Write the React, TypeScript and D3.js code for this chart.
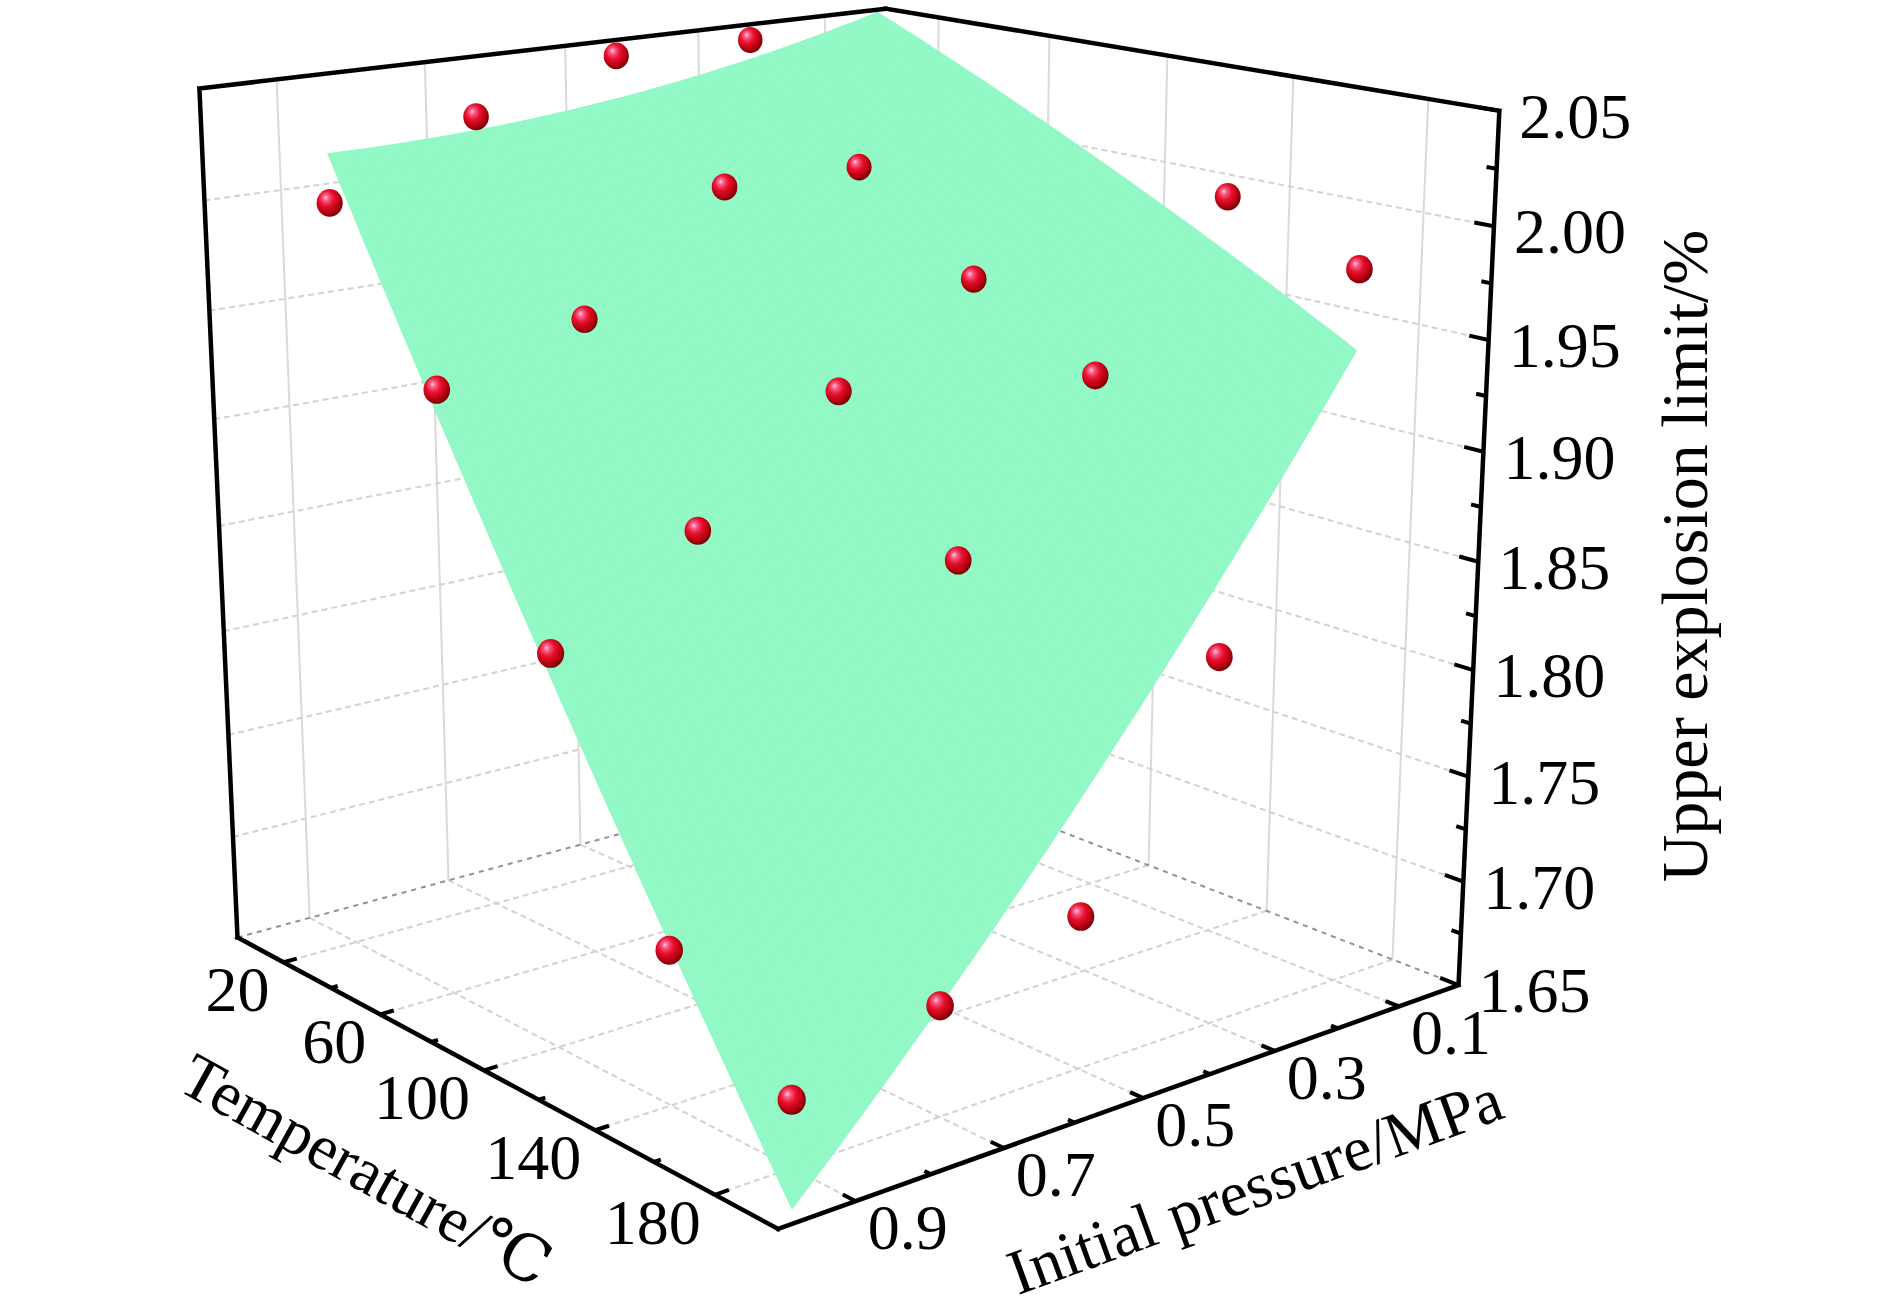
import React from 'react';
import * as d3 from 'd3';

// ---------------- data ----------------
const temperatures = [20, 60, 100, 140, 180];
const pressures = [0.1, 0.3, 0.5, 0.7, 0.9];
// measured upper explosion limit (%) at each temperature, for the pressures above
const uelAt20 = [2.04, 2.05, 2.05, 2.03, 2.0];
const uelAt60 = [2.02, 2.0, 2.0, 1.95, 1.93];
const uelAt100 = [1.99, 1.96, 1.92, 1.87, 1.83];
const uelAt140 = [2.0, 1.93, 1.86, 1.76, 1.72];
const uelAt180 = [1.98, 1.82, 1.72, 1.7, 1.68];
const measured = [uelAt20, uelAt60, uelAt100, uelAt140, uelAt180];

// fitted surface (read at the nodes below)
const fitTemperatures = [20, 100, 180];
const fitPressures = [0.1, 0.5, 0.9];
const fitAt20 = [2.056, 2.03, 2.022];
const fitAt100 = [2.004, 1.895, 1.819];
const fitAt180 = [1.944, 1.775, 1.632];
const fitTable = [fitAt20, fitAt100, fitAt180];

// axes
const T_DOMAIN = [0, 200];
const P_DOMAIN = [0, 1];
const Z_DOMAIN = [1.65, 2.05];
const tempTicks = [20, 60, 100, 140, 180];
const tempMinor = [40, 80, 120, 160];
const pressTicks = [0.1, 0.3, 0.5, 0.7, 0.9];
const pressMinor = [0.2, 0.4, 0.6, 0.8];
const zTicks = [1.65, 1.7, 1.75, 1.8, 1.85, 1.9, 1.95, 2.0, 2.05];
const zMinor = [1.675, 1.725, 1.775, 1.825, 1.875, 1.925, 1.975, 2.025];

// ---------------- projection (calibrated on the frame corners) ----------------
const frameAnchors = [
  { b: [0, 1, 0], s: [237, 937] },
  { b: [1, 1, 0], s: [777, 1230] },
  { b: [1, 0, 0], s: [1458, 983] },
  { b: [0, 0, 0], s: [885, 764] },
  { b: [0, 1, 1], s: [201, 88] },
  { b: [0, 0, 1], s: [883, 8] },
  { b: [1, 0, 1], s: [1501, 112] },
];

function solveDLT(anchors: any[]) {
  const rows: number[][] = [];
  const rhs: number[] = [];
  for (const a of anchors) {
    const [X, Y, Z] = a.b;
    const [u, v] = a.s;
    rows.push([X, Y, Z, 1, 0, 0, 0, 0, -u * X, -u * Y, -u * Z]);
    rhs.push(u);
    rows.push([0, 0, 0, 0, X, Y, Z, 1, -v * X, -v * Y, -v * Z]);
    rhs.push(v);
  }
  const n = 11;
  const A = Array.from({ length: n }, () => Array(n).fill(0));
  const B = Array(n).fill(0);
  rows.forEach((r, k) => {
    for (let i = 0; i < n; i++) {
      for (let j = 0; j < n; j++) A[i][j] += r[i] * r[j];
      B[i] += r[i] * rhs[k];
    }
  });
  for (let c = 0; c < n; c++) {
    let p = c;
    for (let r = c + 1; r < n; r++) if (Math.abs(A[r][c]) > Math.abs(A[p][c])) p = r;
    [A[c], A[p]] = [A[p], A[c]];
    [B[c], B[p]] = [B[p], B[c]];
    for (let r = 0; r < n; r++) {
      if (r === c) continue;
      const f = A[r][c] / A[c][c];
      for (let j = c; j < n; j++) A[r][j] -= f * A[c][j];
      B[r] -= f * B[c];
    }
  }
  return B.map((b, i) => b / A[i][i]);
}

const M = solveDLT(frameAnchors);
const tx = d3.scaleLinear().domain(T_DOMAIN).range([0, 1]);
const py = d3.scaleLinear().domain(P_DOMAIN).range([0, 1]);
const zz = d3.scaleLinear().domain(Z_DOMAIN).range([0, 1]);

function proj(T: number, P: number, Z: number): [number, number, number] {
  const X = tx(T), Y = py(P), W = zz(Z);
  const w = M[8] * X + M[9] * Y + M[10] * W + 1;
  return [(M[0] * X + M[1] * Y + M[2] * W + M[3]) / w, (M[4] * X + M[5] * Y + M[6] * W + M[7]) / w, w];
}

function lagrange(xs: number[], ys: number[], x: number) {
  let s = 0;
  for (let i = 0; i < xs.length; i++) {
    let L = 1;
    for (let j = 0; j < xs.length; j++) if (j !== i) L *= (x - xs[j]) / (xs[i] - xs[j]);
    s += L * ys[i];
  }
  return s;
}
function fitSurface(T: number, P: number) {
  const col = fitTable.map(r => lagrange(fitPressures, r, P));
  return lagrange(fitTemperatures, col, T);
}

const pt = (q: number[]) => `${q[0].toFixed(2)},${q[1].toFixed(2)}`;
const seg = (a: number[], b: number[]) => `M${pt(a)}L${pt(b)}`;

const SERIF = "'Liberation Serif', 'Times New Roman', 'DejaVu Serif', serif";
const FS = 64;
const SURF = '#92F8C5';

export default function App() {
  const [T0, T1] = T_DOMAIN;
  const [P0, P1] = P_DOMAIN;
  const [Z0, Z1] = Z_DOMAIN;

  // grid lines
  const wallV: string[] = [];
  const dashed: string[] = [];
  pressTicks.forEach(p => wallV.push(seg(proj(T0, p, Z0), proj(T0, p, Z1))));
  tempTicks.forEach(t => wallV.push(seg(proj(t, P0, Z0), proj(t, P0, Z1))));
  zTicks.slice(1, -1).forEach(z => {
    dashed.push(seg(proj(T0, P1, z), proj(T0, P0, z)));
    dashed.push(seg(proj(T0, P0, z), proj(T1, P0, z)));
  });
  tempTicks.forEach(t => dashed.push(seg(proj(t, P0, Z0), proj(t, P1, Z0))));
  pressTicks.forEach(p => dashed.push(seg(proj(T0, p, Z0), proj(T1, p, Z0))));
  const junction = [seg(proj(T0, P1, Z0), proj(T0, P0, Z0)), seg(proj(T0, P0, Z0), proj(T1, P0, Z0))];

  // surface mesh
  const N = 48;
  const [fT0, , fT1] = fitTemperatures;
  const [fP0, , fP1] = fitPressures;
  const tS = d3.scaleLinear().domain([0, N]).range([fT0, fT1]);
  const pS = d3.scaleLinear().domain([0, N]).range([fP0, fP1]);
  const onSurf = (t: number, p: number) => proj(t, p, fitSurface(t, p));
  const quads: string[] = [];
  for (let i = 0; i < N; i++) {
    for (let j = 0; j < N; j++) {
      const c = [[tS(i), pS(j)], [tS(i + 1), pS(j)], [tS(i + 1), pS(j + 1)], [tS(i), pS(j + 1)]]
        .map(([t, p]) => onSurf(t, p));
      quads.push(`M${c.map(pt).join('L')}Z`);
    }
  }
  // projected outline of the surface
  const outline: [number, number][] = [];
  d3.range(N + 1).forEach(j => { const q = onSurf(fT0, pS(j)); outline.push([q[0], q[1]]); });
  d3.range(N + 1).forEach(i => { const q = onSurf(tS(i), fP1); outline.push([q[0], q[1]]); });
  d3.range(N, -1, -1).forEach(j => { const q = onSurf(fT1, pS(j)); outline.push([q[0], q[1]]); });
  d3.range(N, -1, -1).forEach(i => { const q = onSurf(tS(i), fP0); outline.push([q[0], q[1]]); });

  // points
  const pts: any[] = [];
  temperatures.forEach((t, i) => pressures.forEach((p, j) => {
    const z = measured[i][j];
    const q = proj(t, p, z);
    const inFront = z >= fitSurface(t, p) || !d3.polygonContains(outline, [q[0], q[1]]);
    pts.push({ t, p, z, x: q[0], y: q[1], w: q[2], inFront });
  }));
  pts.sort((a, b) => b.w - a.w);
  const dot = (d: any, k: number) => {
    const r = 11.2 / Math.pow(d.w, 0.85);
    return <ellipse key={k} cx={d.x} cy={d.y} rx={r} ry={r * 1.06} fill="url(#sphere)" />;
  };

  // axes
  const axes = [
    seg(proj(T0, P1, Z0), proj(T1, P1, Z0)),
    seg(proj(T1, P1, Z0), proj(T1, P0, Z0)),
    seg(proj(T1, P0, Z0), proj(T1, P0, Z1)),
    seg(proj(T0, P1, Z0), proj(T0, P1, Z1)),
    seg(proj(T0, P1, Z1), proj(T0, P0, Z1)),
    seg(proj(T0, P0, Z1), proj(T1, P0, Z1)),
  ];
  const ticks: string[] = [];
  tempTicks.forEach(t => ticks.push(seg(proj(t, P1, Z0), proj(t, P1 - 0.018, Z0))));
  tempMinor.forEach(t => ticks.push(seg(proj(t, P1, Z0), proj(t, P1 - 0.009, Z0))));
  pressTicks.forEach(p => ticks.push(seg(proj(T1, p, Z0), proj(T1 - 4, p, Z0))));
  pressMinor.forEach(p => ticks.push(seg(proj(T1, p, Z0), proj(T1 - 2, p, Z0))));
  zTicks.forEach(z => ticks.push(seg(proj(T1, P0, z), proj(T1 - 5.5, P0, z))));
  zMinor.forEach(z => ticks.push(seg(proj(T1, P0, z), proj(T1 - 2.8, P0, z))));

  return (
    <svg width={1890} height={1315} style={{ position: 'absolute', left: 0, top: 0, background: '#fff' }}>
      <defs>
        <radialGradient id="sphere" cx="0.42" cy="0.38" r="0.62" fx="0.34" fy="0.3">
          <stop offset="0" stopColor="#ffc8de" />
          <stop offset="0.18" stopColor="#f85c88" />
          <stop offset="0.45" stopColor="#e8112e" />
          <stop offset="0.78" stopColor="#b8000f" />
          <stop offset="1" stopColor="#760008" />
        </radialGradient>
      </defs>
      <g fill="none">
        <path d={wallV.join('')} stroke="#dadada" strokeWidth={2} />
        <path d={dashed.join('')} stroke="#d2d2d2" strokeWidth={2} strokeDasharray="6 4" />
        <path d={junction.join('')} stroke="#8d939a" strokeWidth={2} strokeDasharray="5 5" />
      </g>
      <g>{pts.filter(d => !d.inFront).map(dot)}</g>
      <g fill={SURF} stroke={SURF} strokeWidth={1.2} strokeLinejoin="round">
        {quads.map((d, i) => <path key={i} d={d} />)}
      </g>
      <g>{pts.filter(d => d.inFront).map(dot)}</g>
      <path d={axes.join('')} stroke="#000" strokeWidth={4.5} fill="none" strokeLinecap="square" />
      <path d={ticks.join('')} stroke="#000" strokeWidth={4} fill="none" />
      <g fontFamily={SERIF} fontSize={FS} fill="#000">
        {zTicks.map(z => {
          const q = proj(T1, P0, z);
          return <text key={z} x={q[0] + 20} y={q[1] + 27}>{z.toFixed(2)}</text>;
        })}
        {tempTicks.map(t => {
          const q = proj(t, P1, Z0);
          return <text key={t} x={q[0] - 14} y={q[1] + 49} textAnchor="end">{t}</text>;
        })}
        {pressTicks.map(p => {
          const q = proj(T1, p, Z0);
          return <text key={p} x={q[0] + 52} y={q[1] + 48} textAnchor="middle">{p.toFixed(1)}</text>;
        })}
        <text transform="translate(1707,556) rotate(-90)" textAnchor="middle" fontSize={66}>Upper explosion limit/%</text>
        <text transform="translate(366,1170) rotate(29)" textAnchor="middle" dominantBaseline="central">Temperature/℃</text>
        <text transform="translate(1255,1186) rotate(-20)" textAnchor="middle" dominantBaseline="central">Initial pressure/MPa</text>
      </g>
    </svg>
  );
}
